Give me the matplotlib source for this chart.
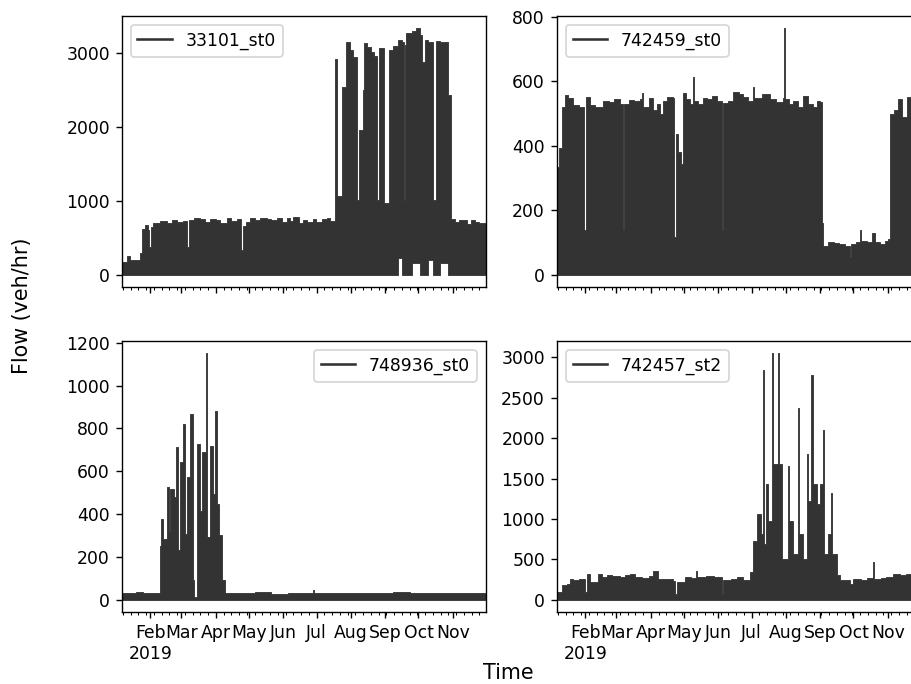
import matplotlib
matplotlib.use('Agg')
import matplotlib.pyplot as plt
import matplotlib.dates as mdates
from matplotlib.lines import Line2D
import pandas as pd

# breakpoints are days after 2019-01-01, values are the daily peak flow (veh/hr)
# held until the next breakpoint; low is the night-time floor
days_33101 = [5.3, 9.5, 12.5, 21.5, 23.1, 26.1, 29.1, 29.8, 31.2, 33.6,
              39.6, 45.6, 50.0, 54.6, 60.0, 64.0, 65.4, 70.0, 75.7, 80.0,
              84.7, 90.0, 93.7, 99.8, 104.0, 108.8, 112.7, 114.2, 117.0, 120.8,
              125.0, 129.8, 135.9, 140.0, 144.9, 150.0, 153.9, 157.0, 160.0, 165.0,
              168.9, 171.9, 177.9, 180.9, 186.0, 190.0, 193.0,
              197.5, 199.6, 203.6, 207.2, 211.1, 214.0, 217.1, 219.5, 222.5, 224.0,
              226.1, 230.0, 233.0, 235.4, 237.5, 241.8, 246.6, 250.0, 254.7, 257.7,
              259.6, 261.0, 261.6, 266.7, 271.2, 274.3, 275.8, 278.8, 281.8, 285.7,
              288.7, 292.3, 299.8, 301.9, 306.0, 310.0, 316.4, 320.0, 324.0, 328.0,
              333.5]
peak_33101 = [170, 250, 200, 290, 620, 680, 610, 380, 650, 700,
              725, 700, 740, 710, 730, 380, 740, 765, 750, 720,
              760, 735, 700, 765, 730, 750, 340, 660, 720, 770,
              745, 775, 760, 735, 770, 720, 775, 730, 780, 700,
              745, 710, 760, 720, 750, 770, 730,
              2930, 1060, 2550, 3160, 3040, 2950, 1015, 1960, 2500, 3140,
              3090, 3020, 2960, 1015, 3070, 970, 3040, 3100, 3180, 3150,
              1015, 3120, 3270, 3300, 3340, 3250, 2890, 3180, 3150, 1015,
              3170, 3160, 2440, 760, 720, 745, 690, 740, 720, 700,
              700]
low_33101 = [0] * 47 + [0, 0, 0, 0, 0, 0, 0, 0, 0, 0,
                        0, 0, 0, 0, 0, 0, 0, 0, 225, 0,
                        0, 0, 0, 160, 160, 0, 0, 0, 200, 0,
                        0, 160, 0, 0, 0, 0, 0, 0, 0, 0,
                        0]

days_742459 = [5.3, 7.4, 9.5, 12.5, 15.5, 20.0, 25.0, 30.0, 31.3, 35.1,
               40.0, 47.1, 52.0, 57.0, 62.2, 64.7, 66.0, 70.0, 75.0, 80.2,
               81.7, 83.2, 88.0, 92.0, 95.3, 98.3, 101.0, 104.3, 110.3, 111.1,
               112.4, 115.0, 117.0, 119.3, 122.0, 125.3, 128.0, 129.0, 133.0, 137.0,
               140.4, 145.0, 150.0, 154.2, 155.5, 160.0, 164.4, 170.0, 173.5, 178.0,
               182.5, 183.5, 190.0, 197.5, 203.0, 209.6, 210.3, 211.3, 215.0, 218.6,
               223.0, 227.6, 232.0, 236.7, 240.0, 242.7, 244.2, 245.7, 250.0, 255.0,
               260.0, 265.0, 269.7, 270.5, 275.0, 278.8, 280.0, 285.0, 289.3, 292.3,
               297.0, 301.0, 304.3, 305.8, 310.0, 313.4, 316.4, 320.9, 325.0, 333.5]
peak_742459 = [335, 392, 520, 558, 550, 528, 522, 138, 553, 527,
               520, 540, 535, 545, 530, 138, 530, 542, 540, 545,
               563, 520, 550, 510, 530, 500, 540, 553, 550, 117,
               438, 380, 345, 563, 545, 530, 615, 540, 530, 550,
               545, 555, 540, 138, 532, 540, 568, 560, 553, 540,
               584, 550, 560, 545, 535, 550, 765, 545, 530, 540,
               520, 555, 530, 520, 540, 537, 159, 90, 100, 98,
               95, 90, 55, 95, 100, 138, 105, 100, 128, 100,
               95, 105, 110, 500, 510, 547, 490, 553, 540, 540]

days_748936 = [5.3, 12.0, 18.0, 24.0, 30.0, 36.0, 39.6, 40.6, 42.0, 45.6,
               47.3, 48.4, 52.2, 54.0, 56.1, 57.6, 60.7, 62.3, 64.3, 66.7,
               69.1, 70.6, 73.3, 75.7, 77.5, 81.2, 82.3, 84.7, 87.7, 89.5,
               91.3, 93.1, 95.3, 98.6, 110.0, 125.0, 140.0, 155.0, 170.0, 177.5,
               179.0, 190.0, 205.0, 220.0, 235.0, 250.0, 265.0, 280.0, 295.0, 310.0,
               325.0, 333.5]
peak_748936 = [32, 30, 34, 29, 32, 30, 253, 378, 284, 525,
               323, 517, 478, 715, 230, 642, 823, 308, 572, 867,
               90, 12, 727, 416, 689, 1151, 292, 720, 494, 880,
               448, 300, 90, 33, 30, 35, 28, 32, 30, 44,
               31, 33, 29, 32, 30, 34, 31, 29, 33, 30,
               32, 32]

days_742457 = [5.3, 9.5, 14.0, 17.0, 20.0, 25.0, 30.6, 32.1, 35.1, 42.6,
               45.6, 50.1, 55.0, 62.2, 67.0, 71.2, 75.7, 82.0, 88.0, 92.2,
               96.8, 104.0, 110.3, 111.8, 113.3, 120.8, 126.0, 131.0, 132.0, 140.0,
               147.0, 152.4, 154.3, 155.5, 162.0, 167.5, 173.5, 179.5, 182.5, 186.1,
               189.1, 191.5, 192.6, 194.2, 195.5, 199.3, 200.3, 204.8, 205.8, 208.5,
               214.1, 215.1, 218.6, 222.8, 223.8, 227.6, 230.6, 232.1, 235.0, 236.0,
               239.7, 242.7, 245.4, 246.4, 250.2, 253.0, 254.0, 257.7, 260.7, 269.7,
               272.8, 280.0, 285.0, 290.8, 291.6, 298.0, 302.8, 308.8, 315.0, 320.0,
               333.5]
peak_742457 = [94, 176, 197, 258, 238, 250, 94, 312, 217, 320,
               280, 300, 290, 280, 300, 312, 280, 270, 290, 361,
               260, 250, 230, 74, 217, 280, 270, 361, 280, 290,
               275, 280, 74, 238, 250, 280, 238, 340, 730, 1060,
               813, 2845, 690, 1430, 977, 3050, 1675, 3050, 1675, 505,
               1654, 977, 566, 2373, 813, 505, 1798, 1223, 2783, 1428,
               1182, 1428, 2106, 566, 813, 1326, 566, 300, 238, 197,
               258, 240, 270, 464, 258, 270, 280, 320, 300, 320,
               320]

sensors = ['33101_st0', '742459_st0', '748936_st0', '742457_st2']
month_labels = ['Feb\n2019', 'Mar', 'Apr', 'May', 'Jun', 'Jul', 'Aug', 'Sep', 'Oct', 'Nov']

series = [
    (days_33101, peak_33101, low_33101),
    (days_742459, peak_742459, [0] * len(days_742459)),
    (days_748936, peak_748936, [0] * len(days_748936)),
    (days_742457, peak_742457, [0] * len(days_742457)),
]
legend_loc = ['upper left', 'upper left', 'upper right', 'upper left']

color = '#333333'
base = pd.Timestamp('2019-01-01')
month_ticks = pd.date_range('2019-02-01', periods=len(month_labels), freq='MS')

fig = plt.figure(figsize=(911 / 124, 684 / 124), dpi=124)
W, H = 911, 684
corners = [(122, 16), (557, 16), (122, 341), (557, 341)]
for i, ((days, peak, low), name) in enumerate(zip(series, sensors)):
    x0, y0 = corners[i]
    ax = fig.add_axes([x0 / W, 1 - (y0 + 271) / H, 363.5 / W, 271 / H])
    dates = base + pd.to_timedelta(days, unit='D')
    ax.fill_between(dates, low, peak, step='post', color=color, lw=0.5)
    ax.set_xlim(dates[0], dates[-1])
    ax.xaxis.set_minor_locator(mdates.WeekdayLocator(byweekday=mdates.MO))
    ax.set_xticks(month_ticks)
    if i >= 2:
        ax.set_xticklabels(month_labels)
    else:
        ax.set_xticklabels([])
    ax.legend(handles=[Line2D([], [], color=color, lw=1.5)], labels=[name],
              loc=legend_loc[i])

fig.text(22 / W, 1 - 306 / H, 'Flow (veh/hr)', rotation=90, ha='center', va='center', fontsize=12)
fig.text(508 / W, 1 - 673 / H, 'Time', ha='center', va='center', fontsize=12)

fig.savefig('out.png', dpi=124)
